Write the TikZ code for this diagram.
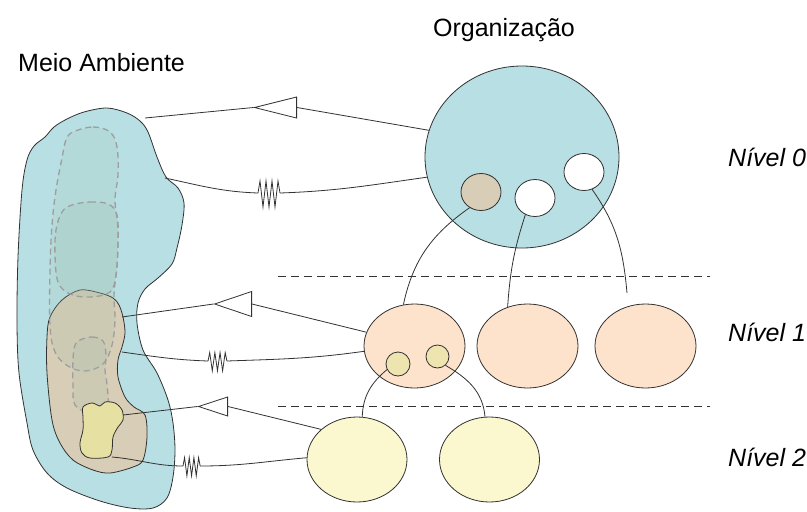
\documentclass[tikz,border=0pt]{standalone}
\usepackage{fontspec}
\setmainfont{Liberation Sans}
\usetikzlibrary{shapes.geometric}

\definecolor{envblue}{RGB}{184,223,227}
\definecolor{tanfill}{RGB}{216,205,182}
\definecolor{peach}{RGB}{253,226,204}
\definecolor{dotyellow}{RGB}{238,228,176}
\definecolor{paleyellow}{RGB}{251,247,206}
\definecolor{coreyellow}{RGB}{230,225,162}
\definecolor{zonetint}{RGB}{160,190,172}
\definecolor{ink}{RGB}{50,50,50}

\tikzset{
  link/.style={draw=ink, line width=0.8pt},
  unit/.style={ellipse, draw=ink, line width=0.8pt, inner sep=0pt},
  sep/.style={draw=ink, line width=1pt, dash pattern=on 8pt off 5pt},
  region/.style={draw=ink, line width=0.8pt},
  zone/.style={draw=black!38, line width=1.3pt, dash pattern=on 6pt off 4pt,
               fill=zonetint, fill opacity=0.18},
  hollow/.style={isosceles triangle, isosceles triangle stretches,
                 shape border rotate=180, draw=ink, fill=white,
                 line width=0.8pt, inner sep=0pt, anchor=lower side},
  lbl/.style={font=\fontsize{25}{30}\selectfont, inner sep=0pt},
  lvl/.style={font=\fontsize{25}{30}\selectfont\itshape, inner sep=0pt},
  coilmark/.pic={\draw[link] (0,0) -- (2,12) -- (5,-14) -- (8,12) -- (11,-14)
                 -- (14,12) -- (17,-14) -- (20,12) -- (22,0);}
}

\begin{document}
\begin{tikzpicture}[x=1pt,y=1pt]
\useasboundingbox (0,0) rectangle (807,-512);
\fill[white] (0,0) rectangle (807,-512);

% environment blob
\draw[region, fill=envblue] plot[smooth cycle, tension=0.55] coordinates {
  (107,-108) (127,-113) (140,-121) (148,-132) (157,-157) (166,-177) (178,-188)
  (184,-203) (182,-225) (177,-248) (172,-264) (158,-278) (145,-289) (138,-303)
  (137,-323) (143,-350) (157,-373) (168,-400) (173,-423) (175,-450) (173,-477)
  (167,-498) (153,-508) (130,-508) (100,-501) (67,-488) (47,-473) (33,-450)
  (27,-423) (19,-373) (17,-323) (18,-257) (22,-190) (27,-160) (34,-146)
  (45,-137) (54,-127) (67,-119) (84,-112)};

% region reached by the first level
\draw[region, fill=tanfill] plot[smooth cycle, tension=0.55] coordinates {
  (80,-290) (100,-293) (113,-298) (119,-305) (123,-317) (125,-333) (122,-347)
  (118,-360) (118,-377) (125,-397) (134,-407) (145,-415) (147,-437) (143,-460)
  (133,-467) (110,-473) (93,-470) (73,-460) (60,-443) (52,-420) (47,-373)
  (47,-337) (50,-317) (62,-300)};

% dashed zones
\draw[zone] plot[smooth cycle, tension=0.6] coordinates {
  (73,-132) (93,-127) (110,-132) (117,-147) (118,-175) (115,-200) (118,-230)
  (117,-265) (114,-295) (115,-320) (112,-345) (103,-364) (85,-371) (68,-366)
  (55,-352) (50,-325) (50,-270) (52,-225) (56,-190) (62,-158) (66,-140)};
\draw[zone] plot[smooth cycle, tension=0.6] coordinates {
  (72,-205) (90,-202) (108,-204) (117,-215) (118,-245) (116,-275) (110,-292)
  (90,-297) (70,-294) (58,-282) (55,-255) (56,-230) (62,-212)};
\draw[zone] plot[smooth cycle, tension=0.6] coordinates {
  (80,-340) (92,-337) (103,-341) (106,-355) (105,-370) (107,-385) (107,-405)
  (90,-412) (75,-405) (73,-385) (73,-360) (75,-345)};

% region reached by the second level
\draw[region, fill=coreyellow] plot[smooth cycle, tension=0.55] coordinates {
  (83,-407) (92,-403) (100,-406) (105,-402) (115,-403) (122,-410) (123,-420)
  (118,-427) (113,-437) (112,-450) (108,-457) (90,-458) (82,-453) (80,-443)
  (83,-430) (83,-417)};

% anchor points on the environment
\coordinate (b0a) at (145,-118);
\coordinate (b0b) at (165,-178);
\coordinate (b1a) at (122,-317);
\coordinate (b1b) at (122,-352);
\coordinate (b2a) at (123,-415);
\coordinate (b2b) at (112,-457);

% level separators
\coordinate (s1l) at (278,-276);
\coordinate (s1r) at (710,-276);
\coordinate (s2l) at (278,-406);
\coordinate (s2r) at (710,-406);
\draw[sep] (s1l) -- (s1r);
\draw[sep] (s2l) -- (s2r);

% organisation units
\node[unit, fill=envblue, minimum width=194pt, minimum height=182pt] (org0) at (522,-157) {};
\node[unit, fill=tanfill, minimum width=40pt, minimum height=37pt] (tan0) at (481,-192) {};
\node[unit, fill=white, minimum width=40pt, minimum height=37pt] (wh1) at (535,-198) {};
\node[unit, fill=white, minimum width=40pt, minimum height=37pt] (wh2) at (584,-172) {};

\node[unit, fill=peach, minimum width=101pt, minimum height=84pt] (e1) at (414.5,-346) {};
\node[unit, fill=peach, minimum width=101pt, minimum height=84pt] (e2) at (527.5,-346) {};
\node[unit, fill=peach, minimum width=101pt, minimum height=84pt] (e3) at (645.5,-346) {};
\node[unit, fill=dotyellow, minimum width=24pt, minimum height=24pt] (y1) at (398,-364) {};
\node[unit, fill=dotyellow, minimum width=23pt, minimum height=23pt] (y2) at (437.5,-356.5) {};

\node[unit, fill=paleyellow, minimum width=100pt, minimum height=85pt] (f1) at (357,-459.5) {};
\node[unit, fill=paleyellow, minimum width=100pt, minimum height=85pt] (f2) at (489.5,-459.5) {};

% hierarchy links
\coordinate (l0end) at (627,-293);
\draw[link] (tan0.234) to[out=215, in=78] (e1.105);
\draw[link] (wh1.240) to[out=252, in=86] (e2.117);
\draw[link] (wh2.295) to[out=-55, in=95] (l0end);
\draw[link] (y1.207) to[out=220, in=88] (f1.83);
\draw[link] (y2.312) to[out=-30, in=95] (f2.96);

% exchanges with the environment, level 0
\node[hollow, minimum height=42pt, minimum width=21pt] (tri0) at (297,-107.5) {};
\draw[link] (org0.164) -- (tri0.lower side);
\draw[link] (tri0.apex) -- (b0a);
\coordinate (z0l) at (258,-193);
\coordinate (z0r) at (280,-193);
\draw[link] (b0b) to[out=-12, in=178] (z0l);
\pic at (z0l) {coilmark};
\draw[link] (z0r) to[out=2, in=188] (org0.192);

% level 1
\node[hollow, minimum height=37pt, minimum width=25pt] (tri1) at (252,-304) {};
\draw[link] (e1.164) -- (tri1.lower side);
\draw[link] (tri1.apex) -- (b1a);
\coordinate (z1l) at (208,-361);
\coordinate (z1r) at (227,-361);
\draw[link] (b1b) to[out=-8, in=178] (z1l);
\pic[xscale=0.86, yscale=0.7] at (z1l) {coilmark};
\draw[link] (z1r) to[out=2, in=188] (e1.186);

% level 2
\node[hollow, minimum height=29pt, minimum width=19pt] (tri2) at (228,-406.5) {};
\draw[link] (f1.140) -- (tri2.lower side);
\draw[link] (tri2.apex) -- (b2a);
\coordinate (z2l) at (183,-466);
\coordinate (z2r) at (200,-466);
\draw[link] (b2b) to[out=-5, in=180] (z2l);
\pic[xscale=0.78, yscale=0.7] at (z2l) {coilmark};
\draw[link] (z2r) to[out=0, in=185] (f1.178);

% labels
\node[lbl, anchor=base] (orgtitle) at (504,-36) {Organização};
\node[lbl, anchor=base west] (envtitle) at (18,-71) {Meio Ambiente};
\node[lvl, anchor=base west] (lv0) at (728,-166) {Nível 0};
\node[lvl, anchor=base west] (lv1) at (728,-341) {Nível 1};
\node[lvl, anchor=base west] (lv2) at (728,-466) {Nível 2};
\end{tikzpicture}
\end{document}
